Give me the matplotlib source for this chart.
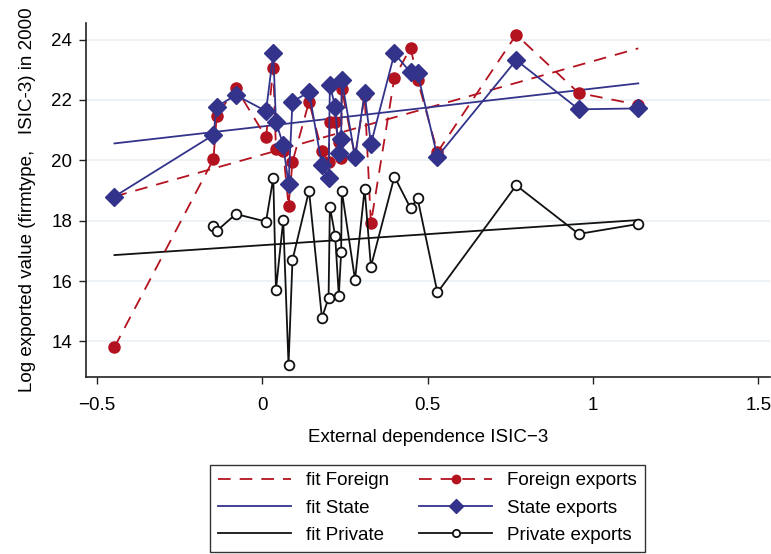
import numpy as np
import matplotlib
matplotlib.use("Agg")
import matplotlib.pyplot as plt

plt.rcParams['font.family'] = ['Liberation Sans', 'DejaVu Sans']

# External dependence (x) for each industry
ext_dep = [-0.446, -0.147, -0.137, -0.079, 0.012, 0.034, 0.042, 0.064, 0.080, 0.092,
           0.142, 0.181, 0.201, 0.205, 0.221, 0.232, 0.239, 0.241, 0.281, 0.310,
           0.329, 0.400, 0.449, 0.470, 0.530, 0.768, 0.957, 1.137]

foreign_exports = [13.81, 20.03, 21.47, 22.40, 20.76, 23.05, 20.38, 20.30, 18.50, 19.95,
                   21.94, 20.31, 19.93, 21.28, 21.28, 20.60, 20.09, 22.36, 20.12, 22.15,
                   17.91, 22.74, 23.73, 22.66, 20.27, 24.16, 22.23, 21.84]

state_exports = [18.80, 20.84, 21.78, 22.16, 21.63, 23.54, 21.28, 20.51, 19.22, 21.94,
                 22.27, 19.84, 19.42, 22.49, 21.78, 20.23, 20.71, 22.66, 20.10, 22.22,
                 20.54, 23.54, 22.91, 22.88, 20.12, 23.32, 21.69, 21.72]

private_exports = [np.nan, 17.83, 17.66, 18.22, 17.97, 19.42, 15.71, 18.02, 13.22, 16.70,
                   18.99, 14.78, 15.44, 18.46, 17.50, 15.51, 16.95, 18.99, 16.04, 19.05,
                   16.48, 19.46, 18.41, 18.74, 15.62, 19.17, 17.56, 17.89]

# Fitted values at the ends of the x range
fit_x = [-0.446, 1.137]
fit_foreign = [18.80, 23.71]
fit_state = [20.56, 22.55]
fit_private = [16.86, 18.02]

yticks = [14, 16, 18, 20, 22, 24]
xticks = [-0.5, 0, 0.5, 1, 1.5]
xticklabels = ['\u22120.5', '0', '0.5', '1', '1.5']

RED = '#b3121f'
BLUE = '#33338c'
BLACK = '#111111'
FS = 13.5

fig = plt.figure(figsize=(7.71, 5.54), dpi=100)
ax = fig.add_axes([86 / 771, 1 - 377 / 554, (770 - 86) / 771, (377 - 23) / 554])

lw = 1.3
dash = (0, (7, 5))

h1, = ax.plot(fit_x, fit_foreign, color=RED, lw=lw, linestyle=dash, label='fit Foreign')
h2, = ax.plot(fit_x, fit_state, color=BLUE, lw=lw, label='fit State')
h3, = ax.plot(fit_x, fit_private, color=BLACK, lw=lw, label='fit Private')

h4, = ax.plot(ext_dep, foreign_exports, color=RED, lw=lw, linestyle=dash,
              marker='o', markersize=8, markerfacecolor=RED, markeredgecolor=RED,
              label='Foreign exports')
h5, = ax.plot(ext_dep, state_exports, color=BLUE, lw=lw,
              marker='D', markersize=9, markerfacecolor=BLUE, markeredgecolor=BLUE,
              label='State exports')
px = [x for x, v in zip(ext_dep, private_exports) if not np.isnan(v)]
pv = [v for v in private_exports if not np.isnan(v)]
h6, = ax.plot(px, pv, color=BLACK, lw=lw,
              marker='o', markersize=7, markerfacecolor='white', markeredgecolor=BLACK,
              markeredgewidth=1.3, label='Private exports')

ax.set_xlim(-0.532, 1.535)
ax.set_ylim(12.82, 24.55)
ax.set_yticks(yticks)
ax.set_yticklabels([str(t) for t in yticks])
ax.set_xticks(xticks)
ax.set_xticklabels(xticklabels)
ax.grid(axis='y', color='#eaf0f5', lw=1.2)
ax.set_axisbelow(True)
for s in ['top', 'right']:
    ax.spines[s].set_visible(False)
for s in ['left', 'bottom']:
    ax.spines[s].set_color('#222222')
    ax.spines[s].set_linewidth(1.2)
ax.tick_params(axis='both', direction='out', length=5, width=1.0, labelsize=FS,
               colors='#222222', labelcolor='black')
ax.tick_params(axis='x', pad=9.5)
ax.tick_params(axis='y', pad=5)

ax.set_xlabel('External dependence ISIC\u22123', fontsize=FS, labelpad=11)
ax.set_ylabel('Log exported value (firmtype,   ISIC-3) in 2000', fontsize=FS, labelpad=11)

leg = fig.legend(handles=[h1, h2, h3, h4, h5, h6], ncol=2, fontsize=FS,
                 loc='center', bbox_to_anchor=(427.5 / 771, 1 - 508 / 554),
                 frameon=True, fancybox=False, edgecolor='black',
                 handlelength=3.9, columnspacing=1.6, handletextpad=0.8,
                 labelspacing=0.55, borderpad=0.4, markerscale=0.75)
leg.get_frame().set_linewidth(1.0)

fig.savefig('out.png', dpi=100)
